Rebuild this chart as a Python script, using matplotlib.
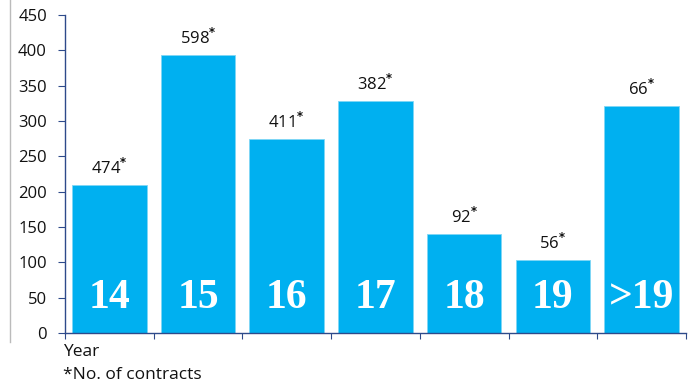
import matplotlib.pyplot as plt
from matplotlib.lines import Line2D
import numpy as np

# data
years = ["14", "15", "16", "17", "18", "19", ">19"]
heights = [209, 393, 274, 328, 140, 103, 321]
contracts = [474, 598, 411, 382, 92, 56, 66]

bar_color = "#00B0F0"
axis_color = "#2E4A8A"

plt.rcParams['font.family'] = ['Open Sans', 'DejaVu Sans']
plt.rcParams['mathtext.fontset'] = 'dejavusans'

fig = plt.figure(figsize=(6.89, 3.86), dpi=100)
ax = fig.add_axes([0.0943, 0.1373, 0.9013, 0.8237])

x = np.arange(len(years))
bars = ax.bar(x, heights, width=0.84, color=bar_color, edgecolor="#7FD6F5", linewidth=0.6)

for xi, h, c in zip(x, heights, contracts):
    ax.annotate(f"{c}" + r"$^{\mathbf{*}}$", (xi, h), xytext=(0, 5), textcoords="offset points",
                ha="center", va="bottom", fontsize=12, color="#111111")

for xi, y in zip(x, years):
    ax.text(xi, 50, y, ha="center", va="center", color="white", fontsize=30,
            fontweight="bold", family=["Liberation Serif"])

ax.set_xlim(-0.5, len(years) - 0.5)
ax.set_ylim(0, 450)
ax.set_yticks(np.arange(0, 451, 50))
ax.set_xticks(np.arange(-0.5, len(years), 1.0))
ax.set_xticklabels([])

for s in ["top", "right"]:
    ax.spines[s].set_visible(False)
for s in ["left", "bottom"]:
    ax.spines[s].set_color(axis_color)
    ax.spines[s].set_linewidth(1.0)
ax.tick_params(axis="y", colors=axis_color, labelcolor="#111111", labelsize=12,
               length=5, pad=8)
ax.tick_params(axis="x", colors=axis_color, length=4)

fig.text(0.0915, 0.088, "Year", fontsize=12.5, ha="left", va="center", color="#111111")
fig.text(0.0915, 0.028, "*No. of contracts", fontsize=12.5, ha="left", va="center", color="#111111")

# thin grey frame line at far left
fig.add_artist(Line2D([0.0145, 0.0145], [0.115, 1.0], color="#BBBBBB", linewidth=1.0))

fig.savefig("out.png", dpi=100)
